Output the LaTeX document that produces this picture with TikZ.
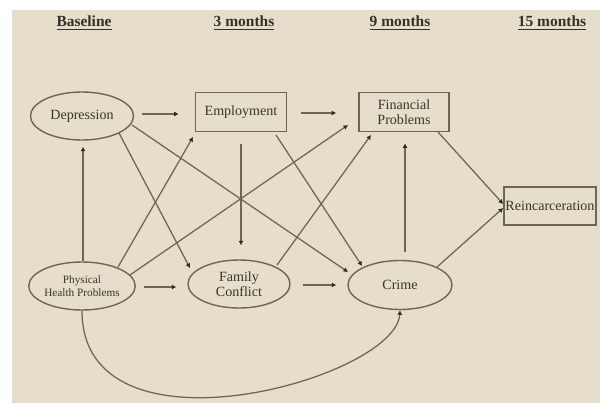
\documentclass[tikz,border=0pt]{standalone}
\usepackage{fontspec}
\setmainfont{Liberation Serif}
\usetikzlibrary{arrows.meta,calc,shapes.geometric}
\definecolor{bgbeige}{RGB}{230,222,202}
\definecolor{linecol}{RGB}{110,101,82}
\definecolor{tipcol}{RGB}{45,40,32}
\definecolor{txtcol}{RGB}{58,53,43}
\tikzset{
  every node/.style={text=txtcol},
  ovalbox/.style={ellipse, draw=linecol, line width=1pt, inner sep=0pt, align=center, font=\fontsize{10}{11}\selectfont},
  rectbox/.style={rectangle, draw=linecol, line width=1.2pt, inner sep=0pt, align=center, font=\fontsize{10}{11}\selectfont},
  header/.style={font=\fontsize{11}{12}\selectfont\bfseries, text=txtcol!90!black},
  conn/.style={draw=linecol, line width=0.9pt, -{Latex[length=3.2pt,width=3.6pt,color=tipcol]}},
}
\begin{document}
\begin{tikzpicture}[x=0.025cm, y=-0.025cm]
\useasboundingbox (0,0) rectangle (600,403);
\fill[white] (0,0) rectangle (600,403);
\fill[bgbeige] (12,10) rectangle (600,403);

% headers
\node[header] (h0) at (84,23) {\underline{Baseline}};
\node[header] (h1) at (244,23) {\underline{3 months}};
\node[header] (h2) at (400,23) {\underline{9 months}};
\node[header] (h3) at (552,23) {\underline{15 months}};

% nodes
\node[ovalbox, minimum width=2.575cm, minimum height=1.2cm] (dep) at (82,116) {Depression};
\node[rectbox, minimum width=2.275cm, minimum height=0.975cm] (emp) at (241,112) {Employment};
\node[rectbox, minimum width=2.25cm, minimum height=0.975cm] (fin) at (404,112) {Financial\\Problems};
\node[rectbox, minimum width=2.3cm, minimum height=0.95cm] (rei) at (550,206) {Reincarceration};
\node[ovalbox, minimum width=2.575cm, minimum height=1.2cm, font=\fontsize{8}{9.5}\selectfont] (phy) at (82,286) {Physical\\Health Problems};
\node[ovalbox, minimum width=2.55cm, minimum height=1.2cm] (fam) at (239,284) {Family\\Conflict};
\node[ovalbox, minimum width=2.6cm, minimum height=1.225cm] (cri) at (400,285) {Crime};

% connectors
\draw[conn] ($(dep.east)+(8,-2)$) -- ($(emp.west)+(-16,2)$);
\draw[conn] ($(emp.east)+(14,1)$) -- ($(fin.west)+(-22,1)$);
\draw[conn] ($(phy.north)+(1,0)$) -- ($(dep.south)+(1,6)$);
\draw[conn] ($(phy.east)+(8,1)$) -- ($(fam.west)+(-11,3)$);
\draw[conn] ($(fam.east)+(12,1)$) -- ($(cri.west)+(-11,0)$);
\draw[conn] ($(emp.south)+(0,12)$) -- ($(fam.north)+(2,-14)$);
\draw[conn] ($(cri.north)+(5,-8)$) -- ($(fin.south)+(1,11)$);
\draw[conn] ($(dep)+(37,17)$) -- ($(fam)+(-49,-16)$);
\draw[conn] ($(dep)+(50,9)$) -- ($(cri)+(-52,-13)$);
\draw[conn] ($(phy)+(36,-19)$) -- ($(emp)+(-48,25)$);
\draw[conn] ($(phy)+(48,-11)$) -- ($(fin)+(-56,13)$);
\draw[conn] ($(emp)+(35,23)$) -- ($(cri)+(-38,-19)$);
\draw[conn] ($(fam)+(38,-19)$) -- ($(fin)+(-33,23)$);
\draw[conn] ($(fin)+(34,20)$) -- ($(rei.west)+(0,-2)$);
\draw[conn] ($(cri)+(37,-18)$) -- ($(rei.west)+(0,2)$);
\draw[conn] (phy.south) .. controls ($(phy.south)+(0,155)$) and ($(cri.south)+(-4,69)$) .. (cri.south);
\end{tikzpicture}
\end{document}
